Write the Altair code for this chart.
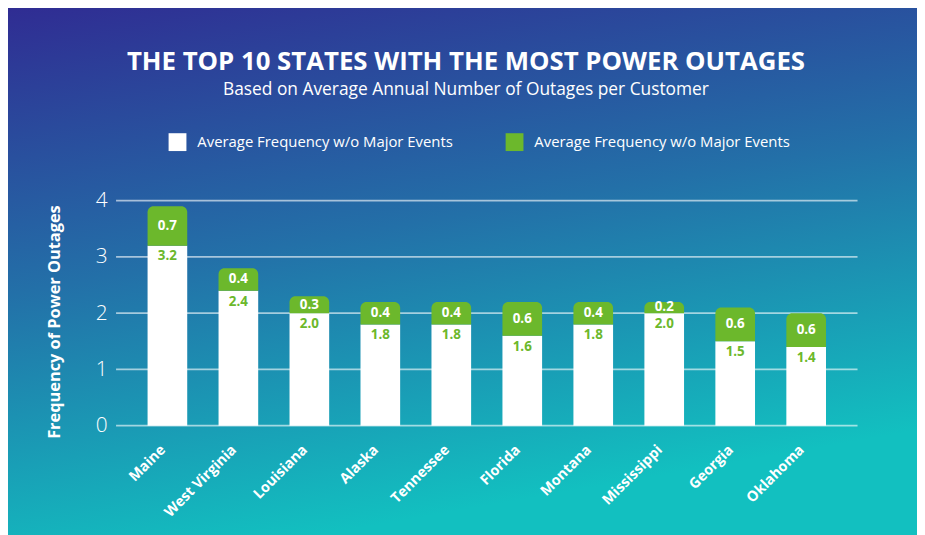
import altair as alt
import pandas as pd

states = ["Maine", "West Virginia", "Louisiana", "Alaska", "Tennessee",
          "Florida", "Montana", "Mississippi", "Georgia", "Oklahoma"]
base_vals = [3.2, 2.4, 2.0, 1.8, 1.8, 1.6, 1.8, 2.0, 1.5, 1.4]
extra_vals = [0.7, 0.4, 0.3, 0.4, 0.4, 0.6, 0.4, 0.2, 0.6, 0.6]
series_keys = ["base", "extra"]
series_labels = ["Average Frequency w/o Major Events", "Average Frequency w/o Major Events"]
series_colors = ["#ffffff", "#6cb82c"]
y_ticks = [0, 1, 2, 3, 4]

title_text = ["THE TOP 10 STATES WITH THE MOST POWER OUTAGES"]
subtitle_text = ["Based on Average Annual Number of Outages per Customer"]
y_title = "Frequency of Power Outages"

df = pd.DataFrame({"State": states, "base": base_vals, "extra": extra_vals})
df["total"] = df["base"] + df["extra"]
df["mid"] = df["base"] + df["extra"] / 2

W, H = 748, 227
PL, PT, PR, PB = 109, 192, 60, 108
FONT = "Open Sans"
GREEN = series_colors[1]

bg = alt.Chart(pd.DataFrame({"k": [0]})).mark_rect(
    color=alt.Gradient(
        gradient="linear",
        stops=[alt.GradientStop(color="#302a92", offset=0),
               alt.GradientStop(color="#2370a8", offset=0.5),
               alt.GradientStop(color="#12c0c0", offset=1)],
        x1=0, y1=0, x2=0.3, y2=1,
    )
).encode(
    x=alt.value(-PL - 10), x2=alt.value(W + PR + 10),
    y=alt.value(-PT - 10), y2=alt.value(H + PB + 10),
)

x_enc = alt.X(
    "State:N", sort=states,
    scale=alt.Scale(paddingInner=0.441, paddingOuter=0.444),
    axis=alt.Axis(labelAngle=-45, labelAlign="right", labelBaseline="middle",
                  labelFont=FONT, labelFontWeight="bold", labelFontSize=14.5,
                  labelColor="white", labelPadding=22, labelOffset=-4,
                  domain=False, ticks=False, grid=False, title=None, zindex=1),
)
y_scale = alt.Scale(domain=[0, 4], nice=False)

grid = alt.Chart(pd.DataFrame({"tick": y_ticks})).mark_rule(
    color="white", opacity=0.6, strokeWidth=1.8
).encode(y=alt.Y("tick:Q", scale=y_scale), x=alt.value(0), x2=alt.value(W))

legend_expr = (f"datum.label == '{series_keys[0]}' ? '{series_labels[0]}' : '{series_labels[1]}'")
color_scale = alt.Scale(domain=series_keys, range=series_colors)

base_bar = alt.Chart(df).transform_calculate(series=f"'{series_keys[0]}'").mark_bar(size=40).encode(
    x=x_enc,
    y=alt.Y("base:Q", scale=y_scale,
            axis=alt.Axis(values=y_ticks, format="d", grid=False, domain=False, ticks=False,
                          labelFont=FONT, labelFontSize=21, labelFontWeight=300,
                          labelColor="white", labelPadding=9, zindex=1,
                          title=y_title, titleFont=FONT, titleFontSize=16.5,
                          titleFontWeight="bold", titleColor="white", titlePadding=33,
                          titleY=122)),
    color=alt.Color("series:N", scale=color_scale,
                    legend=alt.Legend(orient="none", direction="horizontal",
                                      legendX=53, legendY=-68, title=None,
                                      symbolType="square", symbolSize=324,
                                      symbolStrokeWidth=0, symbolOpacity=1,
                                      labelFont=FONT, labelFontSize=15,
                                      labelColor="white", labelLimit=400,
                                      labelOffset=11, columnPadding=53,
                                      labelExpr=legend_expr)),
)

extra_bar = alt.Chart(df).transform_calculate(series=f"'{series_keys[1]}'").mark_bar(
    size=40, cornerRadiusTopLeft=6, cornerRadiusTopRight=6).encode(
    x=x_enc,
    y=alt.Y("total:Q", scale=y_scale),
    y2="base:Q",
    color=alt.Color("series:N", scale=color_scale),
)

extra_text = alt.Chart(df).mark_text(font=FONT, fontWeight="bold", fontSize=13.5,
                                     color="white", baseline="middle").encode(
    x=x_enc, y=alt.Y("mid:Q", scale=y_scale),
    text=alt.Text("extra:Q", format=".1f"),
)
base_text = alt.Chart(df).mark_text(font=FONT, fontWeight="bold", fontSize=13.5,
                                    color=GREEN, baseline="middle", dy=11).encode(
    x=x_enc, y=alt.Y("base:Q", scale=y_scale),
    text=alt.Text("base:Q", format=".1f"),
)

title_mark = alt.Chart(pd.DataFrame({"t": title_text})).mark_text(
    font=FONT, fontSize=26, fontWeight="bold", color="white",
    align="center", baseline="alphabetic"
).encode(text="t:N", x=alt.value(353), y=alt.value(-132))

subtitle_mark = alt.Chart(pd.DataFrame({"t": subtitle_text})).mark_text(
    font=FONT, fontSize=17.5, color="white", align="center", baseline="alphabetic"
).encode(text="t:N", x=alt.value(353), y=alt.value(-107))

chart = alt.layer(bg, grid, base_bar, extra_bar, extra_text, base_text,
                  title_mark, subtitle_mark).properties(
    width=W, height=H,
    autosize=alt.AutoSizeParams(type="none"),
    padding={"left": PL, "top": PT, "right": PR, "bottom": PB},
).configure(background="#2370a8").configure_view(stroke=None)

chart.save("out.html", embed_options={"renderer": "svg", "actions": False})
